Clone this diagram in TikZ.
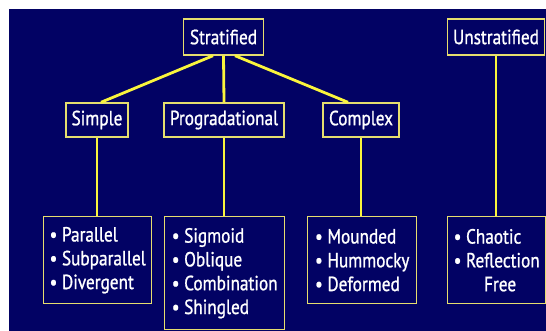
\documentclass[tikz,border=0pt]{standalone}
\usepackage{fontspec}
\setmainfont[FakeStretch=0.84,FakeBold=1]{PT Sans}
\definecolor{navy}{RGB}{2,2,100}
\definecolor{lineyel}{RGB}{250,245,60}
\definecolor{boxyel}{RGB}{230,222,110}
\begin{document}
\begin{tikzpicture}[x=1pt,y=-1pt,
  box/.style={draw=boxyel, line width=1.4pt, fill=navy, text=white,
    font=\fontsize{20.5}{23.8}\selectfont, inner sep=0pt, minimum height=34pt},
  listbox/.style={box, align=left, minimum height=87pt, anchor=north west},
  link/.style={draw=lineyel, line width=2.8pt}
]
\useasboundingbox (0,0) rectangle (546,331);
\fill[white] (0,0) rectangle (546,331);
\fill[navy] (9,9) rectangle (546,331);

\node[box, minimum width=80pt, minimum height=36pt] (strat) at (223.5,37) {Stratified};
\node[box, minimum width=97pt, minimum height=36pt] (unstrat) at (496,37) {Unstratified};
\node[box, minimum width=62pt] (simple) at (97,120) {Simple};
\node[box, minimum width=120pt] (prog) at (224,120) {Progradational};
\node[box, minimum width=76pt] (complex) at (361,120) {Complex};

\node[listbox, minimum width=108pt] (l1) at (43,216) {• Parallel\\• Subparallel\\• Divergent};
\node[listbox, minimum width=120pt, minimum height=113pt] (l2) at (164,216) {• Sigmoid\\• Oblique\\• Combination\\• Shingled};
\node[listbox, minimum width=109pt] (l3) at (307,216) {• Mounded\\• Hummocky\\• Deformed};
\node[listbox, minimum width=98pt] (l4) at (447,216) {• Chaotic\\• Reflection\\\phantom{• }\hspace*{18pt}Free};

\draw[link] ([xshift=-10.5pt]strat.south) -- ([xshift=4pt]simple.north);
\draw[link] (strat.south) -- (prog.north);
\draw[link] ([xshift=11.5pt]strat.south) -- ([xshift=-13pt]complex.north);
\draw[link] (simple.south) -- (simple.south |- l1.north);
\draw[link] (prog.south) -- (prog.south |- l2.north);
\draw[link] (complex.south) -- (complex.south |- l3.north);
\draw[link] (unstrat.south) -- (unstrat.south |- l4.north);
\end{tikzpicture}
\end{document}
